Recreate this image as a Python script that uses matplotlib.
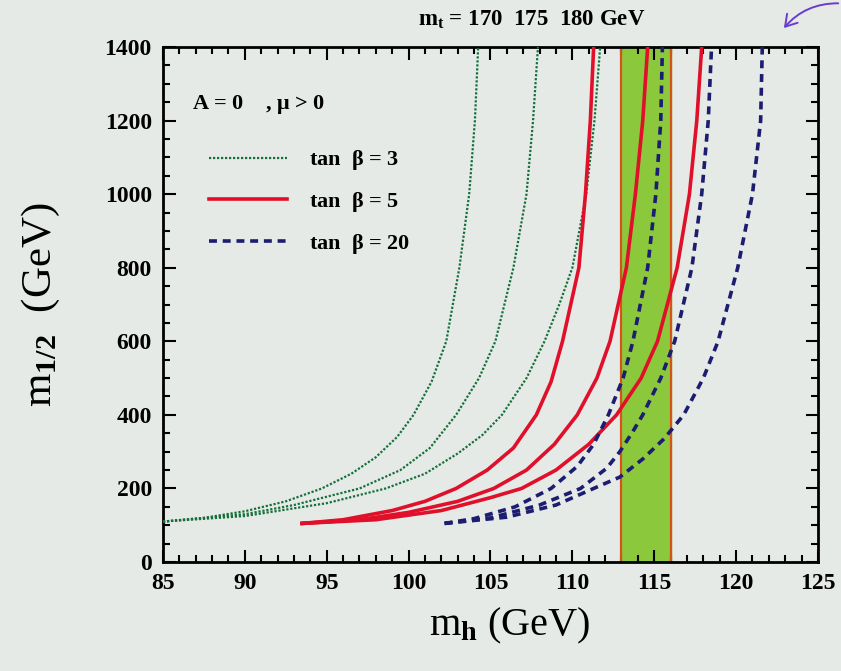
import numpy as np
import matplotlib
matplotlib.use("Agg")
import matplotlib.pyplot as plt
from matplotlib.patches import FancyArrowPatch
from matplotlib.ticker import MultipleLocator

plt.rcParams['font.family'] = ['Liberation Serif', 'DejaVu Serif']
plt.rcParams['font.weight'] = 'bold'
plt.rcParams['mathtext.fontset'] = 'custom'
plt.rcParams['mathtext.rm'] = 'Liberation Serif:bold'
plt.rcParams['mathtext.it'] = 'Liberation Serif:bold'
plt.rcParams['mathtext.bf'] = 'Liberation Serif:bold'

# (m_h, m_1/2) along each curve, for m_t = 170, 175, 180 GeV
tb3_mh = [
    [85.0, 87.5, 90.0, 92.5, 94.7, 96.5, 98.0, 99.3, 100.3, 101.4, 102.3, 103.1, 103.7, 104.05, 104.25],
    [85.0, 90.0, 93.0, 97.0, 99.5, 101.3, 102.9, 104.3, 105.3, 106.4, 107.2, 107.6, 107.9],
    [85.0, 90.0, 95.0, 98.6, 101.0, 103.0, 104.5, 105.7, 107.2, 108.3, 109.2, 110.0, 110.85, 111.35, 111.7],
]
tb3_m12 = [
    [110, 120, 138, 165, 200, 240, 285, 340, 400, 490, 600, 800, 1000, 1200, 1400],
    [110, 130, 155, 200, 250, 310, 400, 500, 600, 800, 1000, 1200, 1400],
    [110, 125, 160, 200, 240, 295, 345, 400, 500, 600, 700, 800, 1000, 1200, 1400],
]

tb5_mh = [
    [93.5, 96.0, 99.0, 101.0, 102.9, 104.8, 106.4, 107.8, 108.7, 109.4, 110.4, 110.8, 111.1, 111.3],
    [93.5, 97.0, 100.0, 103.0, 105.2, 107.2, 108.9, 110.3, 111.5, 112.3, 113.3, 113.85, 114.3, 114.6],
    [93.5, 98.0, 102.0, 105.0, 106.9, 109.0, 111.0, 112.7, 114.2, 115.2, 116.4, 117.15, 117.6, 117.9],
]
tb5_m12 = [
    [105, 115, 140, 165, 200, 250, 310, 400, 490, 600, 800, 1000, 1200, 1400],
    [105, 115, 135, 165, 200, 250, 320, 400, 500, 600, 800, 1000, 1200, 1400],
    [105, 115, 140, 175, 200, 250, 320, 400, 500, 600, 800, 1000, 1200, 1400],
]

tb20_mh = [
    [102.2, 104.0, 106.5, 108.7, 110.3, 111.3, 112.2, 113.1, 113.7, 114.6, 115.1, 115.4, 115.5],
    [102.2, 105.0, 108.0, 110.5, 112.1, 112.9, 113.7, 114.3, 115.4, 116.25, 117.3, 117.9, 118.3, 118.5],
    [102.2, 106.0, 109.0, 111.3, 112.9, 114.3, 115.6, 116.8, 118.0, 118.9, 120.1, 121.0, 121.5, 121.6],
]
tb20_m12 = [
    [105, 118, 150, 200, 260, 320, 400, 500, 600, 800, 1000, 1200, 1400],
    [105, 120, 155, 200, 255, 300, 355, 400, 500, 600, 800, 1000, 1200, 1400],
    [105, 122, 155, 200, 231, 280, 335, 400, 500, 600, 800, 1000, 1200, 1400],
]

# LEP Higgs mass window
band_lo, band_hi = 113.0, 116.0

bg = '#e6eae7'
fig = plt.figure(figsize=(8.41, 6.71), dpi=100, facecolor=bg)
ax = fig.add_axes([0.1938, 0.1624, 0.7788, 0.7675])
ax.set_facecolor(bg)

ax.axvspan(band_lo, band_hi, color='#8cc83c', zorder=1)
ax.axvline(band_lo, color='#d8501a', lw=1.6, zorder=2)
ax.axvline(band_hi, color='#d8501a', lw=1.6, zorder=2)

green = '#16703a'
red = '#e0102a'
blue = '#1c1c70'
for i, (xs, ys) in enumerate(zip(tb3_mh, tb3_m12)):
    ax.plot(xs, ys, color=green, lw=1.6, ls=(0, (1, 0.8)), zorder=3,
            label=r'tan  $\beta$ = 3' if i == 0 else None)
for i, (xs, ys) in enumerate(zip(tb5_mh, tb5_m12)):
    ax.plot(xs, ys, color=red, lw=2.6, zorder=3,
            label=r'tan  $\beta$ = 5' if i == 0 else None)
for i, (xs, ys) in enumerate(zip(tb20_mh, tb20_m12)):
    ax.plot(xs, ys, color=blue, lw=2.6, ls=(0, (2.2, 1.6)), zorder=3,
            label=r'tan  $\beta$ = 20' if i == 0 else None)

ax.set_xlim(85, 125)
ax.set_ylim(0, 1400)
ax.xaxis.set_major_locator(MultipleLocator(5))
ax.xaxis.set_minor_locator(MultipleLocator(1))
ax.yaxis.set_major_locator(MultipleLocator(200))
ax.yaxis.set_minor_locator(MultipleLocator(50))
ax.tick_params(which='both', direction='in', top=True, right=True, width=1.5)
ax.tick_params(which='major', length=9, labelsize=17, pad=8)
ax.tick_params(which='minor', length=5)
for s in ax.spines.values():
    s.set_linewidth(2)
for lab in ax.get_xticklabels() + ax.get_yticklabels():
    lab.set_fontweight('bold')

ax.text(0.045, 0.889, r'A = 0    , $\mu$ > 0', transform=ax.transAxes,
        fontsize=16, fontweight='bold', va='center')
leg = ax.legend(loc='upper left', bbox_to_anchor=(0.04, 0.842), frameon=False,
                fontsize=16, handlelength=3.5, handletextpad=1.0,
                labelspacing=0.8)
for t in leg.get_texts():
    t.set_fontweight('bold')

ax.set_xlabel(r'm$_\mathrm{h}$ (GeV)', fontsize=29)
ax.xaxis.set_label_coords(0.53, -0.085)
ax.set_ylabel(r'm$_{1/2}$  (GeV)', fontsize=31)
ax.yaxis.set_label_coords(-0.154, 0.5)

fig.text(0.632, 0.962, r'm$_\mathrm{t}$ = 170  175  180 GeV', ha='center',
         fontsize=16.5, fontweight='bold')

# hand-drawn pointer at the top right
arrow = FancyArrowPatch((1.0, 0.995), (0.93, 0.955), transform=fig.transFigure,
                        connectionstyle='arc3,rad=0.25',
                        arrowstyle='->,head_length=8,head_width=5',
                        color='#6a3cd0', lw=1.4)
fig.patches.append(arrow)

fig.savefig('out.png', dpi=100, facecolor=bg)
